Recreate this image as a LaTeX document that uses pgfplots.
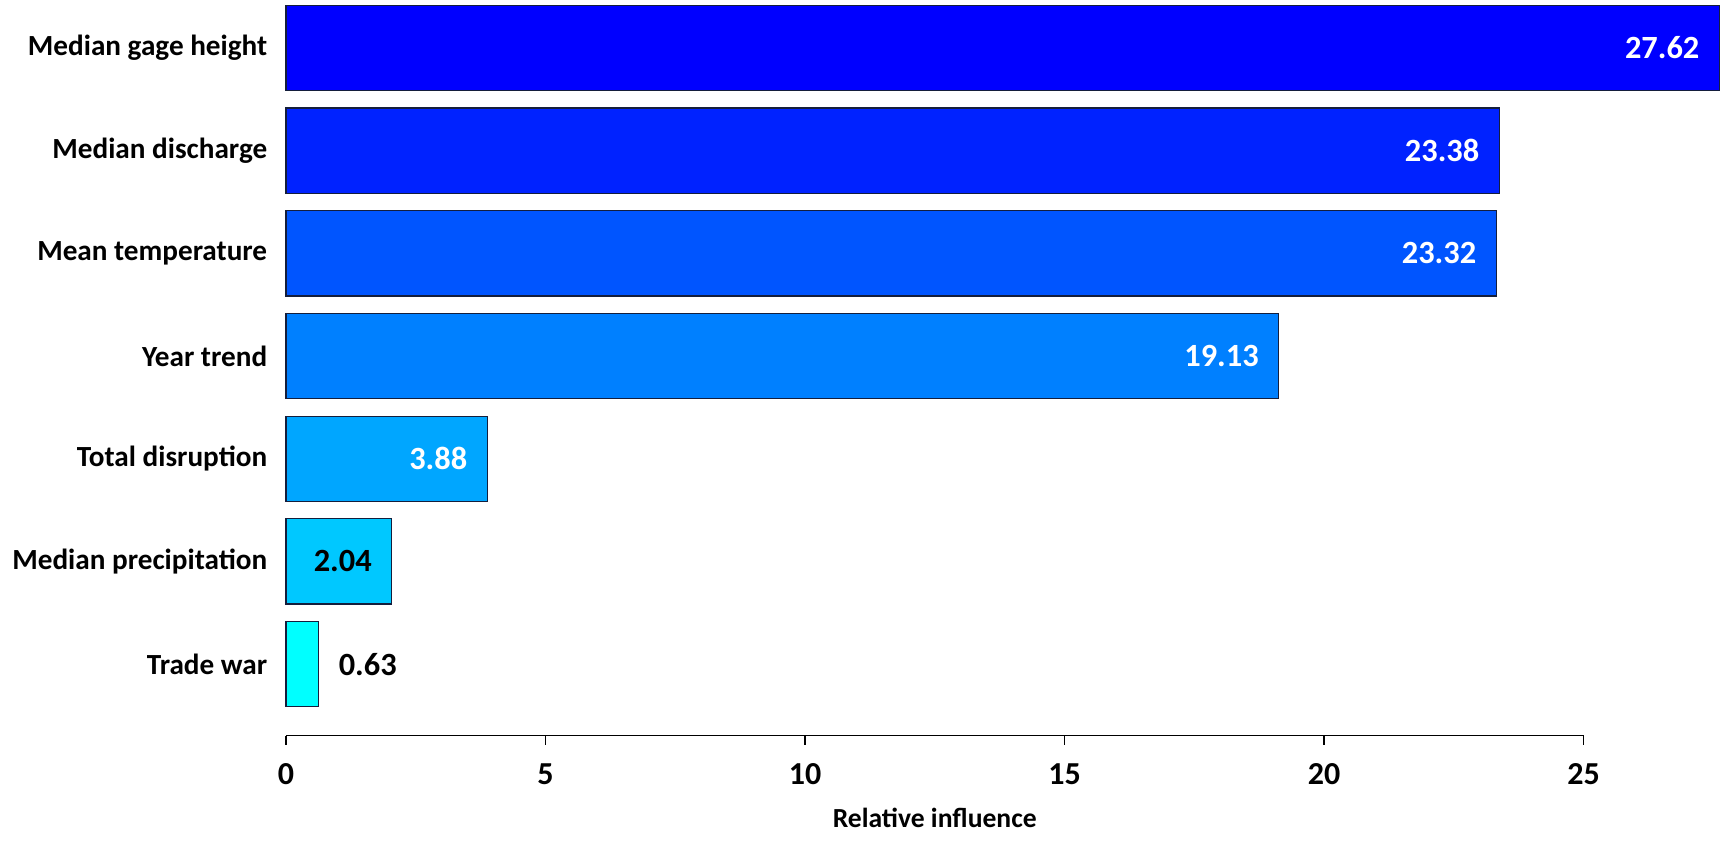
\documentclass[border=0pt]{standalone}
\usepackage{fontspec}
\setmainfont{Carlito}
\usepackage{pgfplots}
\pgfplotsset{compat=1.18}
\definecolor{c1}{RGB}{0,0,255}
\definecolor{c2}{RGB}{0,34,255}
\definecolor{c3}{RGB}{0,85,255}
\definecolor{c4}{RGB}{0,128,255}
\definecolor{c5}{RGB}{0,166,255}
\definecolor{c6}{RGB}{0,200,255}
\definecolor{c7}{RGB}{0,255,255}
\definecolor{edge}{RGB}{20,30,60}
\begin{document}
\begin{tikzpicture}
\begin{axis}[
  name=ax,
  scale only axis,
  width=324.4pt, height=183.9pt,
  xbar, bar width=0.83, bar shift=0pt,
  xmin=0, xmax=25, ymin=-0.696, ymax=6.467,
  clip=false,
  axis lines*=left,
  y axis line style={draw=none},
  x axis line style={black, line width=0.4pt},
  ytick={0,1,2,3,4,5,6},
  yticklabels={Trade war, Median precipitation, Total disruption, Year trend, Mean temperature, Median discharge, Median gage height},
  ytick style={draw=none},
  xtick={0,5,10,15,20,25},
  tick align=outside,
  major tick length=2.25pt,
  xtick style={black, line width=0.4pt},
  /pgf/number format/assume math mode=true,
  xticklabel style={font=\fontsize{8}{9.6}\selectfont\bfseries, anchor=center, yshift=-7.5pt},
  yticklabel style={font=\fontsize{7.3}{8.8}\selectfont\bfseries, anchor=east, inner sep=0pt, xshift=-2.25pt},
  xlabel={Relative influence},
  xlabel style={font=\fontsize{6.9}{8.3}\selectfont\bfseries, at={(axis description cs:0.5,0)}, anchor=center, yshift=-20.5pt},
  point meta=explicit symbolic,
  nodes near coords,
  nodes near coords style={font=\fontsize{8.1}{9.7}\selectfont\bfseries},
  inlab/.style={every node near coord/.append style={anchor=east, xshift=-1.55pt, text=white}},
  inlabk/.style={every node near coord/.append style={anchor=east, xshift=-1.55pt, text=black}},
  outlab/.style={every node near coord/.append style={anchor=west, xshift=1.55pt, text=black}},
  every axis plot/.append style={draw=edge, line width=0.3pt},
]
\addplot[fill=c1, inlab] coordinates {(27.62,6) [27.62]};
\addplot[fill=c2, inlab] coordinates {(23.38,5) [23.38]};
\addplot[fill=c3, inlab] coordinates {(23.32,4) [23.32]};
\addplot[fill=c4, inlab] coordinates {(19.13,3) [19.13]};
\addplot[fill=c5, inlab] coordinates {(3.88,2) [3.88]};
\addplot[fill=c6, inlabk] coordinates {(2.04,1) [2.04]};
\addplot[fill=c7, outlab] coordinates {(0.63,0) [0.63]};
\end{axis}
\pgfresetboundingbox
\path[use as bounding box] ([xshift=-71.5pt,yshift=-27.25pt]ax.south west) rectangle ([xshift=35.375pt]ax.north east);
\end{tikzpicture}
\end{document}
